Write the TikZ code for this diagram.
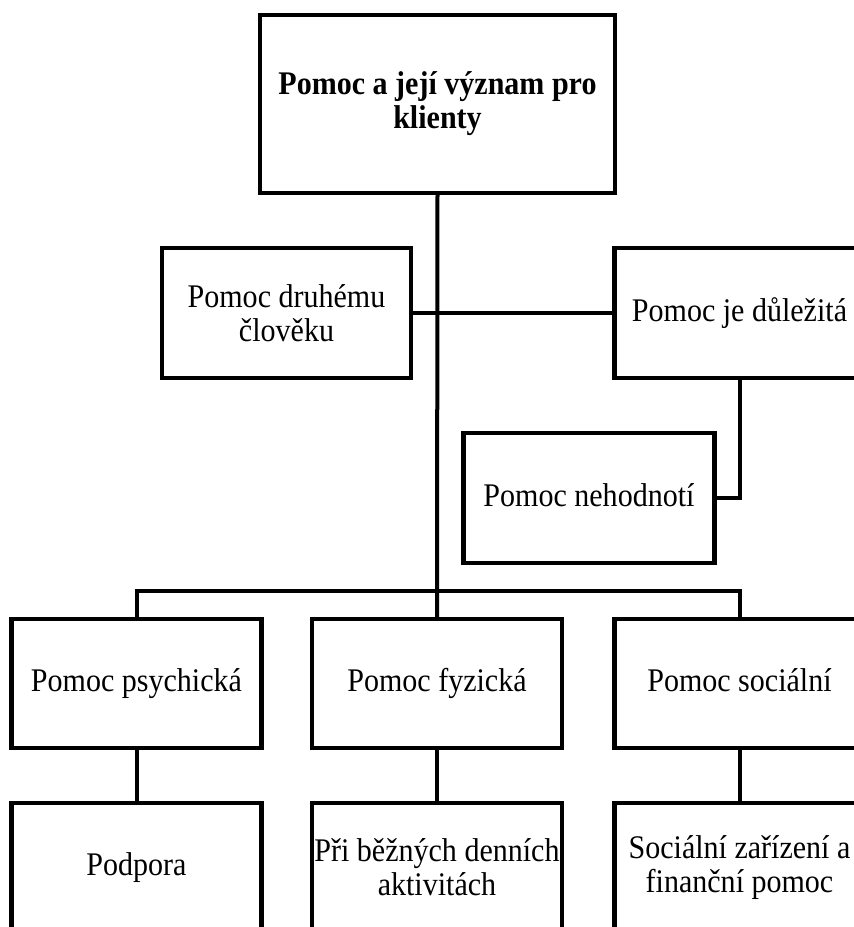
\documentclass[tikz,border=0pt]{standalone}
\usepackage{fontspec}
\setmainfont{Liberation Serif}[FakeStretch=0.91]
\begin{document}
\begin{tikzpicture}[x=1pt,y=-1pt,
  font=\fontsize{33}{34}\selectfont,
  box/.style={draw,line width=4.5pt,inner sep=0pt,outer sep=0pt,align=center,
    minimum width=250pt,minimum height=129pt},
  oneline/.style={text height=23pt,text depth=7pt},
  link/.style={line width=4pt}]
\useasboundingbox (0,0) rectangle (854,927);
\clip (0,0) rectangle (854,927);
% title
\node[box,font=\fontsize{33}{34}\selectfont\bfseries,minimum width=355pt,minimum height=178pt]
  (hlavni) at (437.5,104) {Pomoc a její význam pro\\klienty};
% middle level
\node[box,minimum width=249pt,minimum height=130pt] (druhemu) at (286.5,313) {Pomoc druhému\\člověku};
\node[box,oneline,minimum height=130pt] (dulezita) at (739.5,313) {Pomoc je důležitá};
\node[box,oneline,minimum width=251pt,minimum height=130pt] (nehodnoti) at (589,498) {Pomoc nehodnotí};
% kinds of help
\foreach \x/\name/\lab in {136.5/psychicka/Pomoc psychická,437/fyzicka/Pomoc fyzická,739.5/socialni/Pomoc sociální} {
  \node[box,oneline] (\name) at (\x,683.5) {\lab};
}
\foreach \x/\name/\lab in {136.5/podpora/Podpora,437/aktivity/Při běžných denních\\aktivitách,739.5/zarizeni/Sociální zařízení a\\finanční pomoc} {
  \node[box] (\name) at (\x,867.5) {\lab};
}
% connectors
\coordinate (rozcesti) at (437,591);
\draw[link] (hlavni.south) -- (fyzicka.north);
\draw[link] (druhemu.east) -- (dulezita.west);
\draw[link] (dulezita.south) |- (nehodnoti.east);
\draw[link] (psychicka.north) |- (rozcesti) -| (socialni.north);
\foreach \a/\b in {psychicka/podpora,fyzicka/aktivity,socialni/zarizeni}
  \draw[link] (\a.south) -- (\b.north);
\end{tikzpicture}
\end{document}
